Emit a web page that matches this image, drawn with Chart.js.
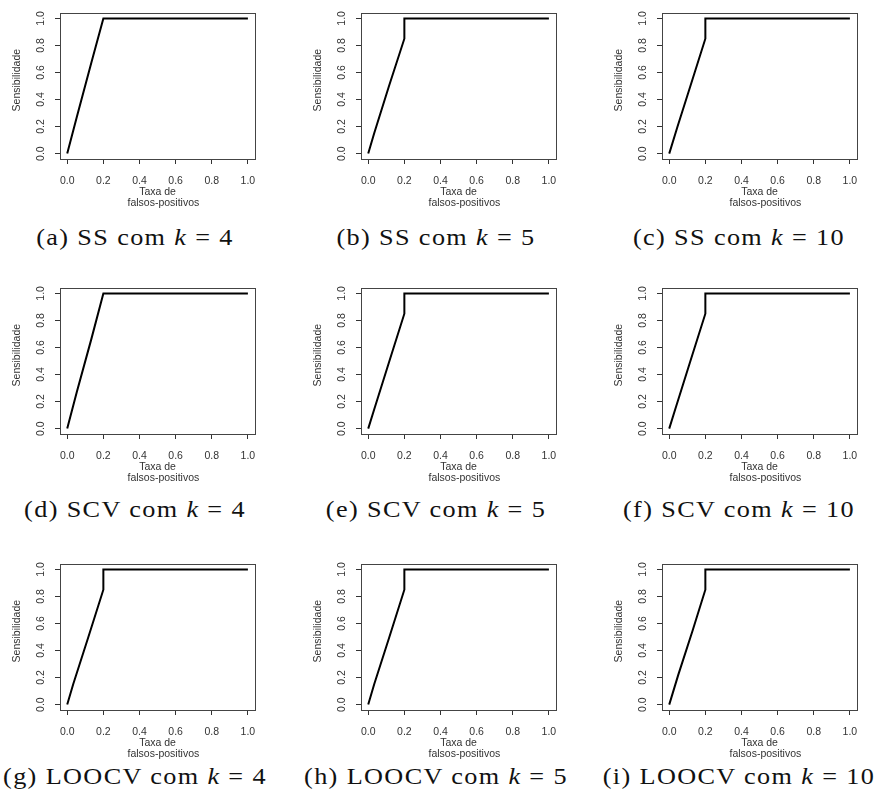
<!DOCTYPE html>
<html><head><meta charset="utf-8">
<script src="https://cdn.jsdelivr.net/npm/chart.js@4.4.0/dist/chart.umd.min.js"></script>
<style>
html,body{margin:0;padding:0;background:#fff;width:875px;height:805px;overflow:hidden;}
#wrap{position:relative;width:875px;height:805px;}
canvas{position:absolute;}
.cap{position:absolute;width:340px;text-align:center;font-family:"Liberation Serif","Times New Roman",serif;font-size:23px;line-height:22px;letter-spacing:1.2px;color:#111;white-space:nowrap;transform:scaleX(1.14);transform-origin:50% 50%;}
</style></head><body><div id="wrap"></div>
<script>
// ---- data ----
const tickValues = [0, 0.2, 0.4, 0.6, 0.8, 1.0];
const tickLabels = ['0.0', '0.2', '0.4', '0.6', '0.8', '1.0'];
const xTitle = ['Taxa de', '    falsos-positivos'];
const yTitle = '    Sensibilidade';

const fpr_a = [0, 0.053, 0.133, 0.2, 1];          const tpr_a = [0, 0.27, 0.67, 1, 1];
const fpr_b = [0, 0.033, 0.115, 0.2, 0.2, 1];     const tpr_b = [0, 0.15, 0.5, 0.85, 1, 1];
const fpr_c = [0, 0.046, 0.122, 0.2, 0.2, 1];     const tpr_c = [0, 0.2, 0.52, 0.85, 1, 1];
const fpr_d = [0, 0.053, 0.133, 0.2, 1];          const tpr_d = [0, 0.27, 0.66, 1, 1];
const fpr_e = [0, 0.035, 0.122, 0.2, 0.2, 1];     const tpr_e = [0, 0.15, 0.52, 0.85, 1, 1];
const fpr_f = [0, 0.035, 0.122, 0.2, 0.2, 1];     const tpr_f = [0, 0.15, 0.52, 0.85, 1, 1];
const fpr_g = [0, 0.033, 0.117, 0.2, 0.2, 1];     const tpr_g = [0, 0.15, 0.5, 0.85, 1, 1];
const fpr_h = [0, 0.033, 0.117, 0.2, 0.2, 1];     const tpr_h = [0, 0.15, 0.5, 0.85, 1, 1];
const fpr_i = [0, 0.05, 0.13, 0.2, 0.2, 1];       const tpr_i = [0, 0.22, 0.55, 0.85, 1, 1];

const panelLetters = ['a', 'b', 'c', 'd', 'e', 'f', 'g', 'h', 'i'];
const panelMethods = ['SS', 'SS', 'SS', 'SCV', 'SCV', 'SCV', 'LOOCV', 'LOOCV', 'LOOCV'];
const panelK = [4, 5, 10, 4, 5, 10, 4, 5, 10];

const series = [
  [fpr_a, tpr_a], [fpr_b, tpr_b], [fpr_c, tpr_c],
  [fpr_d, tpr_d], [fpr_e, tpr_e], [fpr_f, tpr_f],
  [fpr_g, tpr_g], [fpr_h, tpr_h], [fpr_i, tpr_i]
];

// ---- layout ----
const colCanvasLeft = [1, 302, 603];
const rowCanvasTop = [0, 275, 551];
const capCenterX = [135, 436, 739];
const capCenterY = [238, 510, 777];

const FONT = {family: '"Liberation Sans", Arial, sans-serif', size: 10.5};
const INK = '#333';

const boxPlugin = {
  id: 'rbox',
  afterDatasetsDraw(chart) {
    const {ctx, chartArea: a} = chart;
    ctx.save();
    ctx.strokeStyle = '#444';
    ctx.lineWidth = 1;
    ctx.strokeRect(Math.round(a.left) + 0.5, Math.round(a.top) + 0.5,
                   Math.round(a.right - a.left), Math.round(a.bottom - a.top));
    ctx.restore();
  }
};

const wrap = document.getElementById('wrap');
series.forEach((s, idx) => {
  const r = Math.floor(idx / 3), c = idx % 3;
  const cv = document.createElement('canvas');
  cv.width = 265; cv.height = 210;
  cv.style.left = colCanvasLeft[c] + 'px';
  cv.style.top = rowCanvasTop[r] + 'px';
  cv.style.width = '265px'; cv.style.height = '210px';
  wrap.appendChild(cv);

  const [fpr, tpr] = s;
  new Chart(cv, {
    type: 'line',
    data: {
      datasets: [{
        data: fpr.map((x, i) => ({x: x, y: tpr[i]})),
        borderColor: '#000',
        borderWidth: 2,
        pointRadius: 0,
        tension: 0,
        fill: false
      }]
    },
    options: {
      responsive: false,
      animation: false,
      devicePixelRatio: 1,
      layout: {padding: {top: 10, left: 0, right: 8, bottom: 0}},
      plugins: {legend: {display: false}, tooltip: {enabled: false}},
      scales: {
        x: {
          type: 'linear', min: -0.04, max: 1.04,
          afterBuildTicks: sc => { sc.ticks = tickValues.map(v => ({value: v})); },
          afterFit: sc => { sc.height = 51; },
          ticks: {callback: (v, i) => tickLabels[i], autoSkip: false, minRotation: 0, maxRotation: 0,
                  padding: 10.5, color: INK, font: FONT},
          grid: {drawOnChartArea: false, drawTicks: true, tickLength: 5, color: INK},
          border: {display: false},
          title: {display: true, text: xTitle, color: INK,
                  font: {family: FONT.family, size: 10.5, lineHeight: '11px'},
                  padding: {top: 0, bottom: 1}}
        },
        y: {
          type: 'linear', min: -0.04, max: 1.04,
          afterBuildTicks: sc => { sc.ticks = tickValues.map(v => ({value: v})); },
          afterFit: sc => { sc.width = 59; },
          ticks: {callback: (v, i) => tickLabels[i], autoSkip: false, minRotation: 90, maxRotation: 90,
                  crossAlign: 'center', padding: 6.7, color: INK, font: FONT},
          grid: {drawOnChartArea: false, drawTicks: true, tickLength: 5, color: INK},
          border: {display: false},
          title: {display: true, text: yTitle, color: INK,
                  font: {family: FONT.family, size: 10.5, lineHeight: '12px'},
                  padding: {top: 10.5, bottom: 0}}
        }
      }
    },
    plugins: [boxPlugin]
  });

  const cap = document.createElement('div');
  cap.className = 'cap';
  cap.innerHTML = '(' + panelLetters[idx] + ') ' + panelMethods[idx] + ' com <i>k</i> = ' + panelK[idx];
  cap.style.left = (capCenterX[c] - 170) + 'px';
  cap.style.top = (capCenterY[r] - 11) + 'px';
  wrap.appendChild(cap);
});
</script>
</body></html>
